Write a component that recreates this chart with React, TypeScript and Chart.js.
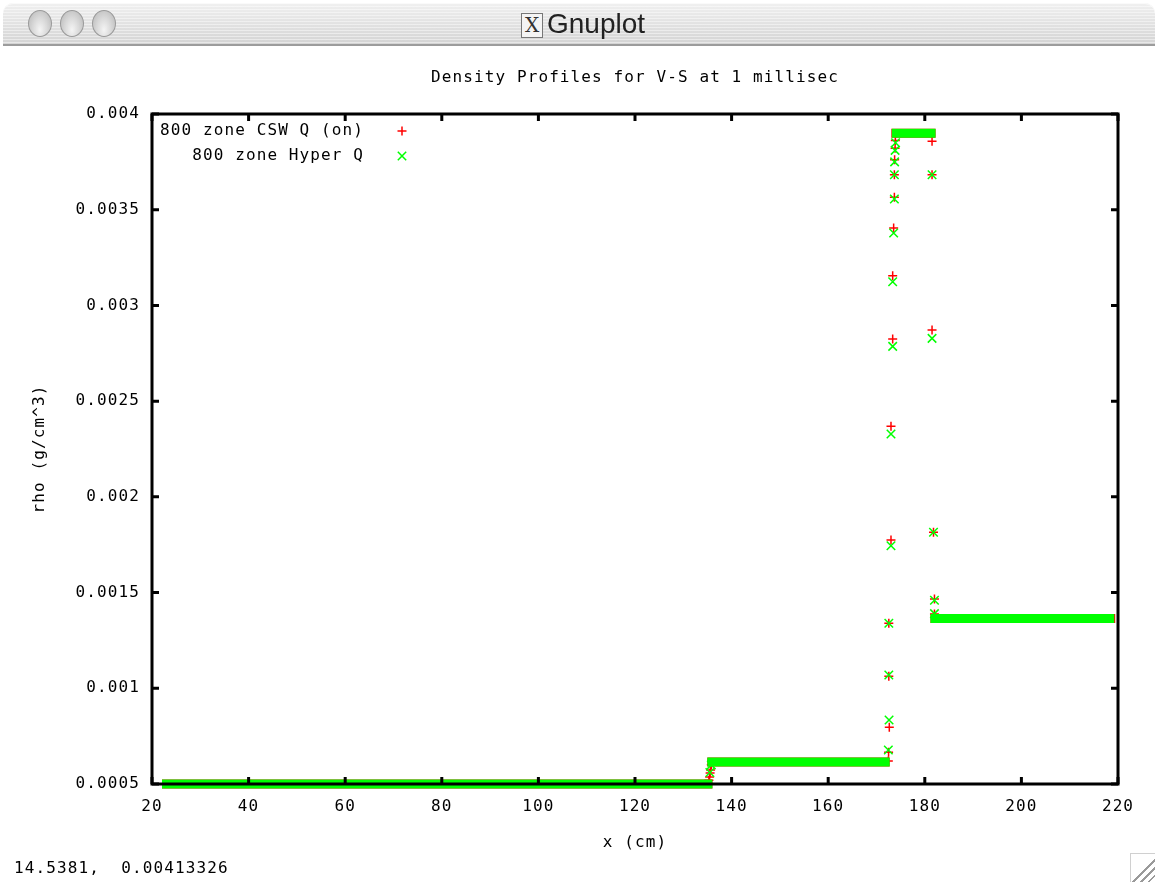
import React, { useEffect, useRef } from 'react';
import { Chart, registerables } from 'chart.js';

Chart.register(...registerables);

// ---------- text ----------
const windowTitle = 'Gnuplot';
const chartTitle = 'Density Profiles for V-S at 1 millisec';
const xAxisTitle = 'x (cm)';
const yAxisTitle = 'rho (g/cm^3)';
const statusText = '14.5381,  0.00413326';
const seriesLabels = ['800 zone CSW Q (on)', '800 zone Hyper Q'];

// ---------- ticks ----------
const xTickValues = [20, 40, 60, 80, 100, 120, 140, 160, 180, 200, 220];
const yTickValues = [0.0005, 0.001, 0.0015, 0.002, 0.0025, 0.003, 0.0035, 0.004];

// ---------- plateaus (runs of many zones at constant density) ----------
const cswBandStart = [23.0, 135.9, 174.0, 182.1];
const cswBandEnd = [135.1, 171.8, 181.3, 218.5];
const cswBandRho = [0.0005, 0.000615, 0.0039, 0.001365];

const hyperBandStart = [23.0, 135.9, 174.1, 182.1];
const hyperBandEnd = [135.1, 171.8, 181.3, 218.3];
const hyperBandRho = [0.0005, 0.000615, 0.0039, 0.001365];

// ---------- individual zones in the transitions ----------
const cswX = [135.3, 135.45, 135.55, 135.65, 135.8,
  172.45, 172.5, 172.65, 172.55, 172.55, 173.0, 173.0, 173.35, 173.35, 173.55, 173.7, 173.7, 173.75, 173.85, 173.9,
  181.5, 181.5, 181.5, 181.8, 182.0, 182.0];
const cswRho = [0.00052, 0.000537, 0.000557, 0.000573, 0.0006,
  0.00062, 0.000666, 0.000796, 0.001063, 0.00134, 0.001775, 0.002369, 0.002825, 0.003155, 0.003404, 0.003565, 0.003683, 0.003761, 0.003821, 0.003861,
  0.003857, 0.003683, 0.002872, 0.001815, 0.001466, 0.001388];

const hyperX = [135.5, 135.8,
  172.45, 172.6, 172.55, 172.55, 173.0, 173.0, 173.35, 173.35, 173.55, 173.7, 173.7, 173.75, 173.85, 173.95,
  181.5, 181.5, 181.8, 182.0, 182.0];
const hyperRho = [0.00056, 0.0006,
  0.000678, 0.000834, 0.001069, 0.00134, 0.001745, 0.002328, 0.002786, 0.003124, 0.003378, 0.003556, 0.003683, 0.00375, 0.00381, 0.00385,
  0.003683, 0.002828, 0.001815, 0.00146, 0.00139];

const RED = '#ff0000';
const GREEN = '#00ff00';
const FONT_FAMILY = '"DejaVu Sans Mono", monospace';
const LETTER_SPACING = '1.1px';

function bandDatasets(starts: number[], ends: number[], rho: number[], color: string, order: number) {
  return starts.map((s, i) => ({
    label: '',
    data: [{ x: s, y: rho[i] }, { x: ends[i], y: rho[i] }],
    showLine: true,
    borderColor: color,
    backgroundColor: color,
    borderWidth: 9,
    borderCapStyle: 'square',
    pointRadius: 0,
    clip: false,
    order,
  }));
}

const gnuplotDecor = {
  id: 'gnuplotDecor',
  beforeDraw(chart: any) {
    chart.ctx.letterSpacing = LETTER_SPACING;
  },
  afterDatasetsDraw(chart: any) {
    const { ctx, chartArea: a, scales } = chart;
    ctx.save();
    ctx.strokeStyle = '#000';
    ctx.lineWidth = 3;
    ctx.lineCap = 'butt';
    // inward tick marks on all four sides
    const tl = 7;
    ctx.beginPath();
    xTickValues.forEach((v) => {
      const px = scales.x.getPixelForValue(v);
      ctx.moveTo(px, a.bottom);
      ctx.lineTo(px, a.bottom - tl);
      ctx.moveTo(px, a.top);
      ctx.lineTo(px, a.top + tl);
    });
    yTickValues.forEach((v) => {
      const py = scales.y.getPixelForValue(v);
      ctx.moveTo(a.left, py);
      ctx.lineTo(a.left + tl, py);
      ctx.moveTo(a.right, py);
      ctx.lineTo(a.right - tl, py);
    });
    ctx.stroke();
    // frame
    ctx.strokeRect(a.left, a.top, a.right - a.left, a.bottom - a.top);

    // legend (gnuplot style: right-aligned text then marker)
    ctx.letterSpacing = LETTER_SPACING;
    ctx.font = `16px ${FONT_FAMILY}`;
    ctx.fillStyle = '#000';
    ctx.textAlign = 'right';
    ctx.textBaseline = 'middle';
    const textRight = a.left + 212;
    const markX = a.left + 250;
    const rows = [a.top + 17, a.top + 42];
    ctx.fillText(seriesLabels[0], textRight, rows[0]);
    ctx.fillText(seriesLabels[1], textRight, rows[1]);
    ctx.lineWidth = 1.5;
    ctx.strokeStyle = RED;
    ctx.beginPath();
    ctx.moveTo(markX - 4.5, rows[0]);
    ctx.lineTo(markX + 4.5, rows[0]);
    ctx.moveTo(markX, rows[0] - 4.5);
    ctx.lineTo(markX, rows[0] + 4.5);
    ctx.stroke();
    ctx.strokeStyle = GREEN;
    ctx.beginPath();
    ctx.moveTo(markX - 4.2, rows[1] - 4.2);
    ctx.lineTo(markX + 4.2, rows[1] + 4.2);
    ctx.moveTo(markX - 4.2, rows[1] + 4.2);
    ctx.lineTo(markX + 4.2, rows[1] - 4.2);
    ctx.stroke();

    // titles
    const cx = (a.left + a.right) / 2;
    ctx.textAlign = 'center';
    ctx.fillText(chartTitle, cx, 78);
    ctx.fillText(xAxisTitle, cx, 843);
    ctx.save();
    ctx.translate(40, (a.top + a.bottom) / 2);
    ctx.rotate(-Math.PI / 2);
    ctx.fillText(yAxisTitle, 0, 0);
    ctx.restore();
    ctx.restore();
  },
};

function GnuplotChart() {
  const ref = useRef<HTMLCanvasElement | null>(null);
  useEffect(() => {
    if (!ref.current) return;
    const font = { family: FONT_FAMILY, size: 16 };
    const chart = new Chart(ref.current, {
      type: 'scatter',
      data: {
        datasets: [
          {
            label: seriesLabels[1],
            data: hyperX.map((x, i) => ({ x, y: hyperRho[i] })),
            pointStyle: 'crossRot',
            pointRadius: 6,
            borderWidth: 1.5,
            borderColor: GREEN,
            backgroundColor: GREEN,
            clip: false,
            order: 0,
          },
          ...bandDatasets(hyperBandStart, hyperBandEnd, hyperBandRho, GREEN, 1),
          {
            label: seriesLabels[0],
            data: cswX.map((x, i) => ({ x, y: cswRho[i] })),
            pointStyle: 'cross',
            pointRadius: 4.5,
            borderWidth: 1.5,
            borderColor: RED,
            backgroundColor: RED,
            clip: false,
            order: 2,
          },
          ...bandDatasets(cswBandStart, cswBandEnd, cswBandRho, RED, 3),
        ] as any,
      },
      options: {
        responsive: false,
        animation: false,
        events: [],
        layout: { padding: { top: 114, right: 40, bottom: 0, left: 0 } },
        plugins: {
          legend: { display: false },
          title: { display: false },
          tooltip: { enabled: false },
        },
        scales: {
          x: {
            type: 'linear',
            min: 20,
            max: 220,
            afterBuildTicks: (s: any) => {
              s.ticks = xTickValues.map((v) => ({ value: v }));
            },
            afterFit: (s: any) => {
              s.height = 102;
            },
            grid: { display: false },
            border: { display: false },
            ticks: { color: '#000', font, padding: 5, maxRotation: 0, autoSkip: false, callback: (v: any) => String(v) },
          },
          y: {
            type: 'linear',
            min: 0.0005,
            max: 0.004,
            afterBuildTicks: (s: any) => {
              s.ticks = yTickValues.map((v) => ({ value: v }));
            },
            afterFit: (s: any) => {
              s.width = 152;
            },
            grid: { display: false },
            border: { display: false },
            ticks: {
              color: '#000',
              font,
              padding: 4,
              autoSkip: false,
              callback: (v: any) => String(Number(Number(v).toFixed(6))),
            },
          },
        },
      } as any,
      plugins: [gnuplotDecor],
    });
    return () => chart.destroy();
  }, []);
  return <canvas ref={ref} width={1158} height={886} style={{ position: 'absolute', left: 0, top: 0 }} />;
}

function TitleBar() {
  const btn = (left: number) => (
    <div
      key={left}
      style={{
        position: 'absolute',
        left,
        top: 7,
        width: 24,
        height: 27,
        borderRadius: '50%',
        border: '1px solid #9a9a9a',
        background: 'radial-gradient(ellipse at 50% 75%, #f4f4f4 0%, #d9d9d9 45%, #b5b5b5 100%)',
        boxSizing: 'border-box',
      }}
    />
  );
  return (
    <div
      style={{
        position: 'absolute',
        left: 3,
        top: 3,
        width: 1152,
        height: 41,
        borderTopLeftRadius: 10,
        borderTopRightRadius: 10,
        borderBottom: '2px solid #9c9c9c',
        background:
          'repeating-linear-gradient(180deg, rgba(255,255,255,0.45) 0px, rgba(255,255,255,0.45) 1px, rgba(0,0,0,0) 1px, rgba(0,0,0,0) 3px), linear-gradient(180deg, #f0f0f0, #d4d4d4)',
        boxShadow: 'inset 0 1px 0 #fafafa',
      }}
    >
      {btn(25)}
      {btn(57)}
      {btn(89)}
      <div
        style={{
          position: 'absolute',
          left: 518,
          top: 10,
          width: 22,
          height: 25,
          border: '1px solid #777',
          background: '#f4f4f4',
          boxSizing: 'border-box',
          fontFamily: '"DejaVu Serif", serif',
          fontSize: 20,
          lineHeight: '23px',
          textAlign: 'center',
          color: '#333',
        }}
      >
        X
      </div>
      <div
        style={{
          position: 'absolute',
          left: 544,
          top: 4,
          fontFamily: '"Liberation Sans", Arial, sans-serif',
          fontSize: 28,
          lineHeight: '34px',
          color: '#222',
        }}
      >
        {windowTitle}
      </div>
    </div>
  );
}

export default function App() {
  return (
    <div
      style={{
        position: 'fixed',
        left: 0,
        top: 0,
        width: 1158,
        height: 886,
        background: '#ffffff',
        overflow: 'hidden',
      }}
    >
      <GnuplotChart />
      <TitleBar />
      <div
        style={{
          position: 'absolute',
          left: 14,
          top: 858,
          fontFamily: FONT_FAMILY,
          fontSize: 16,
          letterSpacing: LETTER_SPACING,
          whiteSpace: 'pre',
          color: '#000',
        }}
      >
        {statusText}
      </div>
      <div
        style={{
          position: 'absolute',
          left: 1130,
          top: 853,
          width: 24,
          height: 28,
          borderLeft: '1px solid #d0d0d0',
          borderTop: '1px solid #d0d0d0',
          background:
            'linear-gradient(135deg, rgba(0,0,0,0) 55%, #9a9a9a 55%, #9a9a9a 60%, rgba(0,0,0,0) 60%, rgba(0,0,0,0) 70%, #9a9a9a 70%, #9a9a9a 75%, rgba(0,0,0,0) 75%, rgba(0,0,0,0) 85%, #9a9a9a 85%, #9a9a9a 90%, rgba(0,0,0,0) 90%)',
        }}
      />
    </div>
  );
}
